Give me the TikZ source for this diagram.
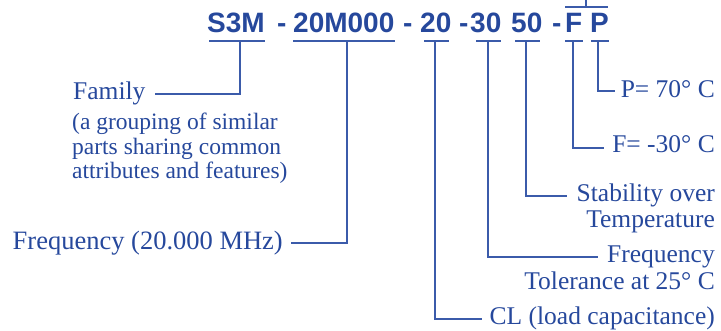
\documentclass[tikz,border=0pt]{standalone}
\usepackage{fontspec}
\setmainfont{Liberation Serif}
\newfontfamily\codefont{Liberation Sans}
\definecolor{tblue}{HTML}{26489C}
\definecolor{lblue}{HTML}{3B5BAA}
\begin{document}
\begin{tikzpicture}[x=1pt,y=-1pt,
  code/.style={inner sep=0pt, anchor=base west, text=tblue, font=\codefont\bfseries\fontsize{28}{30}\selectfont},
  lbl/.style={inner sep=0pt, anchor=base east, text=tblue, font=\fontsize{25.5}{26}\selectfont},
  desc/.style={inner sep=0pt, anchor=base west, align=left, text=tblue, font=\fontsize{23.5}{24.5}\selectfont},
  conn/.style={draw=lblue, line width=1.4pt},
]
\useasboundingbox (0,0) rectangle (721,331);
% part number
\node[code] (c1) at (207,33) {S3M};
\node[code] (d1) at (277,33) {-};
\node[code] (c2) at (293,33) {20M000};
\node[code] (d2) at (403,33) {-};
\node[code] (c3) at (420,33) {20};
\node[code] (d3) at (459,33) {-};
\node[code] (c4) at (470,33) {30};
\node[code] (c5) at (511,33) {50};
\node[code] (d4) at (552,33) {-};
\node[code] (c6) at (565,33) {F};
\node[code] (c7) at (590,33) {P};
% underlines and overline
\draw[conn] (209,41) -- (265,41);
\draw[conn] (293,41) -- (395,41);
\draw[conn] (424,41) -- (449,41);
\draw[conn] (476,41) -- (501,41);
\draw[conn] (515,41) -- (540,41);
\draw[conn] (565,41) -- (583,41);
\draw[conn] (591,41) -- (609,41);
\draw[conn] (565,7) -- (608,7);
\draw[conn] (586,7) -- (586,0);
% tick points
\coordinate (t1) at (240,41);
\coordinate (t2) at (347,41);
\coordinate (t3) at (435,41);
\coordinate (t4) at (488,41);
\coordinate (t5) at (526,41);
\coordinate (t6) at (573,41);
\coordinate (t7) at (598,41);
% labels
\node[lbl, anchor=base west] (fam) at (73,100) {Family};
\node[desc] (famd) at (72,179) {(a grouping of similar\\parts sharing common\\attributes and features)};
\node[lbl, font=\fontsize{26.5}{27}\selectfont] (freq) at (283,250) {Frequency (20.000 MHz)};
\node[lbl] (p) at (715,98) {P= 70° C};
\node[lbl] (f) at (715,153) {F= -30° C};
\node[lbl, align=right, font=\fontsize{25.5}{26}\selectfont] (stab) at (715,228) {Stability over\\Temperature};
\node[lbl, align=right, font=\fontsize{25.5}{27}\selectfont] (tol) at (715,290) {Frequency\\Tolerance at 25° C};
\node[lbl] (cl) at (715,325) {CL (load capacitance)};
% line ends
\coordinate (e1) at (155,94);
\coordinate (e2) at (291,243);
\coordinate (e3) at (482,319);
\coordinate (e4) at (598,257);
\coordinate (e5) at (567,196);
\coordinate (e6) at (604,148);
\coordinate (e7) at (615,91);
\draw[conn] (t1) |- (e1);
\draw[conn] (t2) |- (e2);
\draw[conn] (t3) |- (e3);
\draw[conn] (t4) |- (e4);
\draw[conn] (t5) |- (e5);
\draw[conn] (t6) |- (e6);
\draw[conn] (t7) |- (e7);
\end{tikzpicture}
\end{document}
